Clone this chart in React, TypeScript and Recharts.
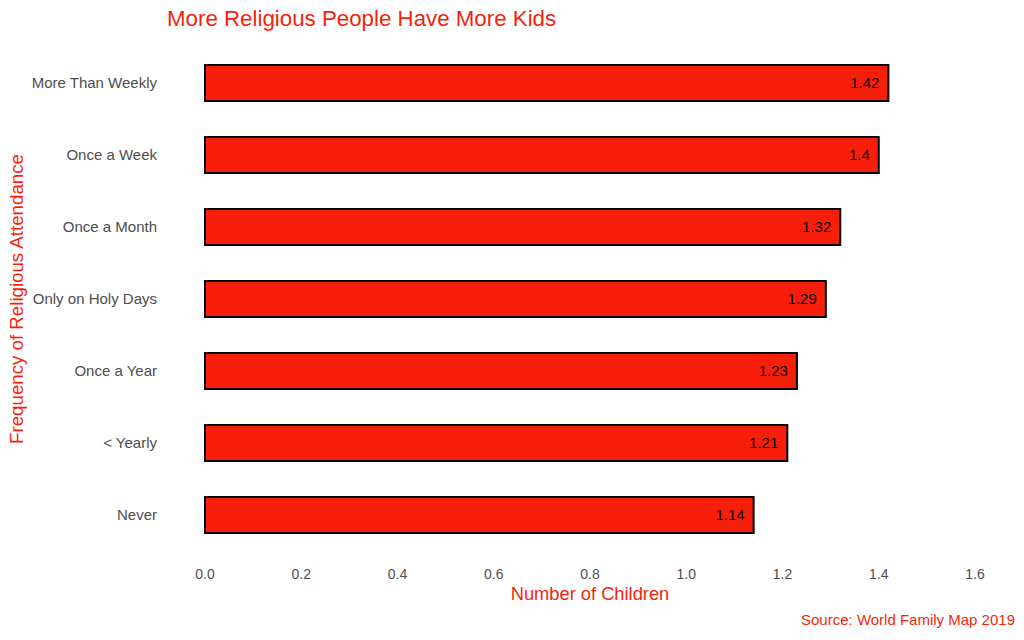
import React from 'react';
import { BarChart, Bar, XAxis, YAxis, LabelList } from 'recharts';

const categories = [
  'More Than Weekly',
  'Once a Week',
  'Once a Month',
  'Only on Holy Days',
  'Once a Year',
  '< Yearly',
  'Never'
];
const children = [1.42, 1.4, 1.32, 1.29, 1.23, 1.21, 1.14];
const xTicks = [0, 0.2, 0.4, 0.6, 0.8, 1.0, 1.2, 1.4, 1.6];

const data = categories.map((name, i) => ({ name, value: children[i] }));

const RED = '#F81F0A';
const FONT = '"Liberation Sans", Arial, sans-serif';

export default function App() {
  return (
    <div style={{ position: 'absolute', left: 0, top: 0, width: 1024, height: 640, background: '#fff', fontFamily: FONT }}>
      <div style={{ position: 'absolute', left: 167, top: 6, fontSize: 22.3, color: RED, whiteSpace: 'nowrap' }}>
        More Religious People Have More Kids
      </div>
      <BarChart
        width={1024}
        height={640}
        data={data}
        layout="vertical"
        margin={{ top: 47, right: 49, bottom: 59, left: 0 }}
        barSize={36}
      >
        <XAxis
          type="number"
          dataKey="value"
          domain={[0, 1.6]}
          ticks={xTicks}
          tickFormatter={(v: number) => v.toFixed(1)}
          axisLine={false}
          tickLine={false}
          tickMargin={12}
          height={30}
          tick={{ fill: '#4d4d4d', fontSize: 14, fontFamily: FONT }}
        />
        <YAxis
          type="category"
          dataKey="name"
          width={205}
          axisLine={false}
          tickLine={false}
          tickMargin={42}
          tick={{ fill: '#4d4d4d', fontSize: 15, fontFamily: FONT }}
        />
        <Bar dataKey="value" fill={RED} stroke="#000" strokeWidth={2} isAnimationActive={false}>
          <LabelList
            dataKey="value"
            position="insideRight"
            offset={9}
            fill="#000"
            fontSize={15}
            fontFamily={FONT}
          />
        </Bar>
      </BarChart>
      <div style={{ position: 'absolute', left: 590, top: 583, transform: 'translateX(-50%)', fontSize: 18.3, color: RED, whiteSpace: 'nowrap' }}>
        Number of Children
      </div>
      <div
        style={{
          position: 'absolute',
          left: 17,
          top: 299,
          transform: 'translate(-50%, -50%) rotate(-90deg)',
          fontSize: 18.7,
          color: RED,
          whiteSpace: 'nowrap'
        }}
      >
        Frequency of Religious Attendance
      </div>
      <div style={{ position: 'absolute', right: 9, top: 611, fontSize: 15, color: RED, whiteSpace: 'nowrap' }}>
        Source: World Family Map 2019
      </div>
    </div>
  );
}
